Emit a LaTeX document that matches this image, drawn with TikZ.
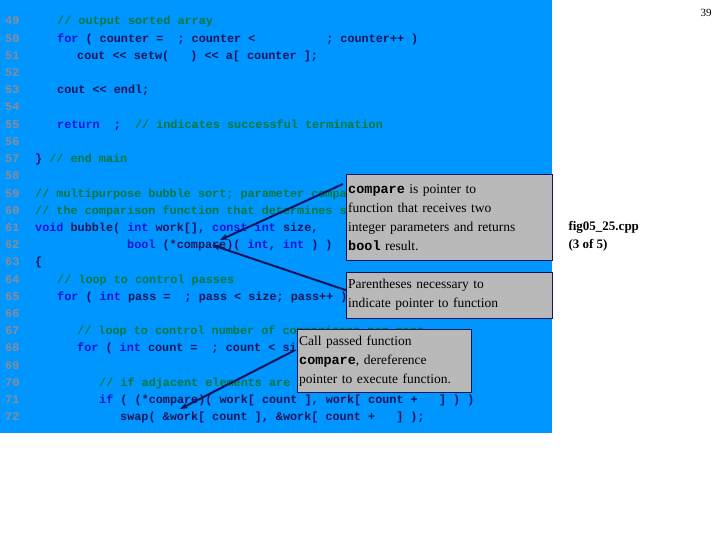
\documentclass[tikz,border=0pt]{standalone}
\usepackage{fontspec}
\setmainfont{Liberation Serif}
\setmonofont{Liberation Mono}
\usetikzlibrary{arrows.meta}
\definecolor{slidebg}{RGB}{0,150,255}
\definecolor{codetxt}{RGB}{20,20,90}
\definecolor{kwtxt}{RGB}{20,20,210}
\definecolor{cmtxt}{RGB}{0,120,60}
\definecolor{numtxt}{RGB}{140,140,150}
\definecolor{boxfill}{RGB}{185,185,185}
\newcommand{\kw}[1]{\textcolor{kwtxt}{#1}}
\newcommand{\cm}[1]{\textcolor{cmtxt}{#1}}
\newcommand{\cd}[1]{{\ttfamily\bfseries #1}}

\begin{document}
\begin{tikzpicture}[x=1pt, y=-1pt,
  code/.style = {anchor = base west, inner sep = 0, font = \ttfamily\bfseries\fontsize{11.8}{12}\selectfont, text = codetxt},
  lnum/.style = {code, text = numtxt},
  note/.style = {draw = codetxt, fill = boxfill, anchor = north west, inner xsep = 2pt, inner ysep = 3pt, align = left, font = \fontsize{13.5}{19}\selectfont, text = black},
  call/.style = {draw = codetxt, line width = 2pt, -{Stealth[length = 8pt, width = 6pt]}}]
\useasboundingbox (0,0) rectangle (720,540);
\fill[slidebg] (0,0) rectangle (552,433);
% line numbers
\foreach \n [count = \i from 0] in {49,...,72}
  \node[lnum] (n\n) at (5, 25+17.2*\i) {\n};
% code lines
\node[code] (c49) at (57, 25+17.2*0)  {\cm{// output sorted array}};
\node[code] (c50) at (57, 25+17.2*1)  {\kw{for} ( counter =~~; counter <~~~~~~~~~~; counter++ )};
\node[code] (c51) at (77, 25+17.2*2)  {cout << setw(~~~) << a[ counter ];};
\node[code] (c53) at (57, 25+17.2*4)  {cout << endl;};
\node[code] (c55) at (57, 25+17.2*6)  {\kw{return}~~;~~\cm{// indicates successful termination}};
\node[code] (c57) at (35, 25+17.2*8)  {\} \cm{// end main}};
\node[code] (c59) at (35, 25+17.2*10) {\cm{// multipurpose bubble sort; parameter compare is a pointer to}};
\node[code] (c60) at (35, 25+17.2*11) {\cm{// the comparison function that determines sorting order}};
\node[code] (c61) at (35, 25+17.2*12) {\kw{void} bubble( \kw{int} work[], \kw{const} \kw{int} size,};
\node[code] (c62) at (127,25+17.2*13) {\kw{bool} (*compare)( \kw{int}, \kw{int} ) )};
\node[code] (c63) at (35, 25+17.2*14) {\{};
\node[code] (c64) at (57, 25+17.2*15) {\cm{// loop to control passes}};
\node[code] (c65) at (57, 25+17.2*16) {\kw{for} ( \kw{int} pass =~~; pass < size; pass++ )};
\node[code] (c67) at (77, 25+17.2*18) {\cm{// loop to control number of comparisons per pass}};
\node[code] (c68) at (77, 25+17.2*19) {\kw{for} ( \kw{int} count =~~; count < size - pass; count++ )};
\node[code] (c70) at (99, 25+17.2*21) {\cm{// if adjacent elements are out of order, swap them}};
\node[code] (c71) at (99, 25+17.2*22) {\kw{if} ( (*compare)( work[ count ], work[ count +~~~] ) )};
\node[code] (c72) at (120,25+17.2*23) {swap( \&work[ count ], \&work[ count +~~~] );};
% callouts
\node[note, text width = 202pt, minimum height = 86pt] (ptrnote) at (346,174)
  {\cd{compare} is pointer to\\function that receives two\\integer parameters and returns\\\cd{bool} result.};
\node[note, text width = 202pt, minimum height = 46pt] (parnote) at (346,272)
  {Parentheses necessary to\\indicate pointer to function};
\node[note, text width = 170pt, minimum height = 63pt] (callnote) at (297,329)
  {Call passed function\\\cd{compare}, dereference\\pointer to execute function.};
\coordinate (ptrend) at (220,240);
\coordinate (parend) at (212,245);
\coordinate (callend) at (180,409);
\draw[call] (ptrnote.north west) ++(-3,10) -- (ptrend);
\draw[call] (parnote.west) ++(0,-5) -- (parend);
\draw[call] (callnote.west) ++(-3,-10) -- (callend);
% slide labels
\node[anchor = west, font = \bfseries\fontsize{13}{18}\selectfont, align = left] (figname) at (565,236) {fig05\_25.cpp\\(3 of 5)};
\node[font = \fontsize{11}{12}\selectfont] (pgnum) at (706,13) {39};
\end{tikzpicture}
\end{document}
